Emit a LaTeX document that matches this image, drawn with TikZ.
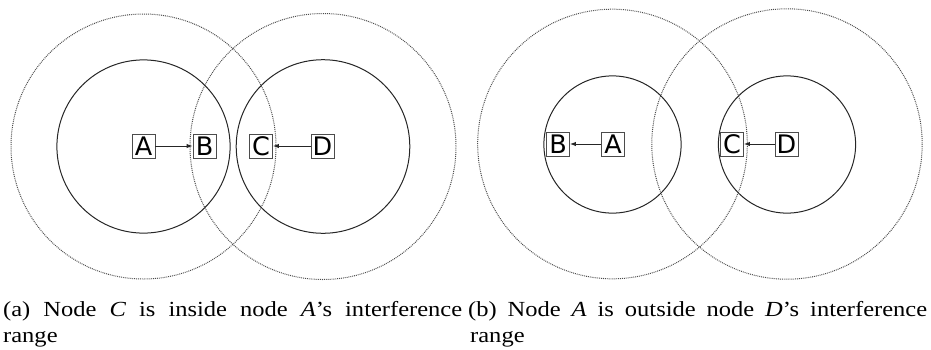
\documentclass[tikz,border=0pt]{standalone}
\usepackage{fontspec}
\setmainfont{Liberation Serif}
\newfontfamily\capfont{Liberation Serif}[FakeStretch=1.14]
\newfontfamily\nodefont{DejaVu Sans}
\usetikzlibrary{arrows.meta}

\begin{document}
\begin{tikzpicture}[x=1bp,y=-1bp,
  station/.style={draw=black!70, line width=0.9bp, inner sep=0pt,
    minimum width=23bp, minimum height=24bp,
    text height=18.5bp, text depth=0pt,
    font=\nodefont\fontsize{25.5bp}{25.5bp}\selectfont},
  txrange/.style={draw=black!85, line width=1bp},
  ifrange/.style={draw=black!70, line width=1bp, dash pattern=on 0.9bp off 1bp},
  link/.style={draw=black!85, line width=1bp, -{Latex[length=6bp,width=4.5bp]}},
  caption/.style={anchor=base west, inner sep=0pt,
    font=\capfont\fontsize{21.5bp}{24bp}\selectfont}]

\useasboundingbox (0,0) rectangle (931,349);

% ---- (a) C inside A's interference range ----
\draw[ifrange] (143.5,146.5) circle[radius=132.5];
\draw[ifrange] (323,146.5) circle[radius=133];
\draw[txrange] (143.5,146.5) circle[radius=86.6];
\draw[txrange] (323,146.5) circle[radius=86.8];

\node[station] (aA) at (143.5,146) {A};
\node[station] (aB) at (204.5,146) {B};
\node[station] (aC) at (261,146) {C};
\node[station] (aD) at (322.5,146) {D};
\draw[link] (aA) -- (aB);
\draw[link] (aD) -- (aC);

% ---- (b) A outside D's interference range ----
\draw[ifrange] (612.5,144) circle[radius=134.8];
\draw[ifrange] (787,144) circle[radius=135.2];
\draw[txrange] (612.5,144.5) circle[radius=68.6];
\draw[txrange] (787,144.5) circle[radius=68.6];

\node[station] (bB) at (558,144) {B};
\node[station] (bA) at (613,144) {A};
\node[station] (bC) at (732,144) {C};
\node[station] (bD) at (786.5,144) {D};
\draw[link] (bA) -- (bB);
\draw[link] (bD) -- (bC);

% ---- captions ----
\node[caption] (capa1) at (3,316)
  {\makebox[459bp][s]{(a) Node \textit{C} is inside node \textit{A}’s interference}};
\node[caption] (capa2) at (3,342) {range};
\node[caption] (capb1) at (468,316)
  {\makebox[459bp][s]{(b) Node \textit{A} is outside node \textit{D}’s interference}};
\node[caption] (capb2) at (470,342) {range};
\end{tikzpicture}
\end{document}
